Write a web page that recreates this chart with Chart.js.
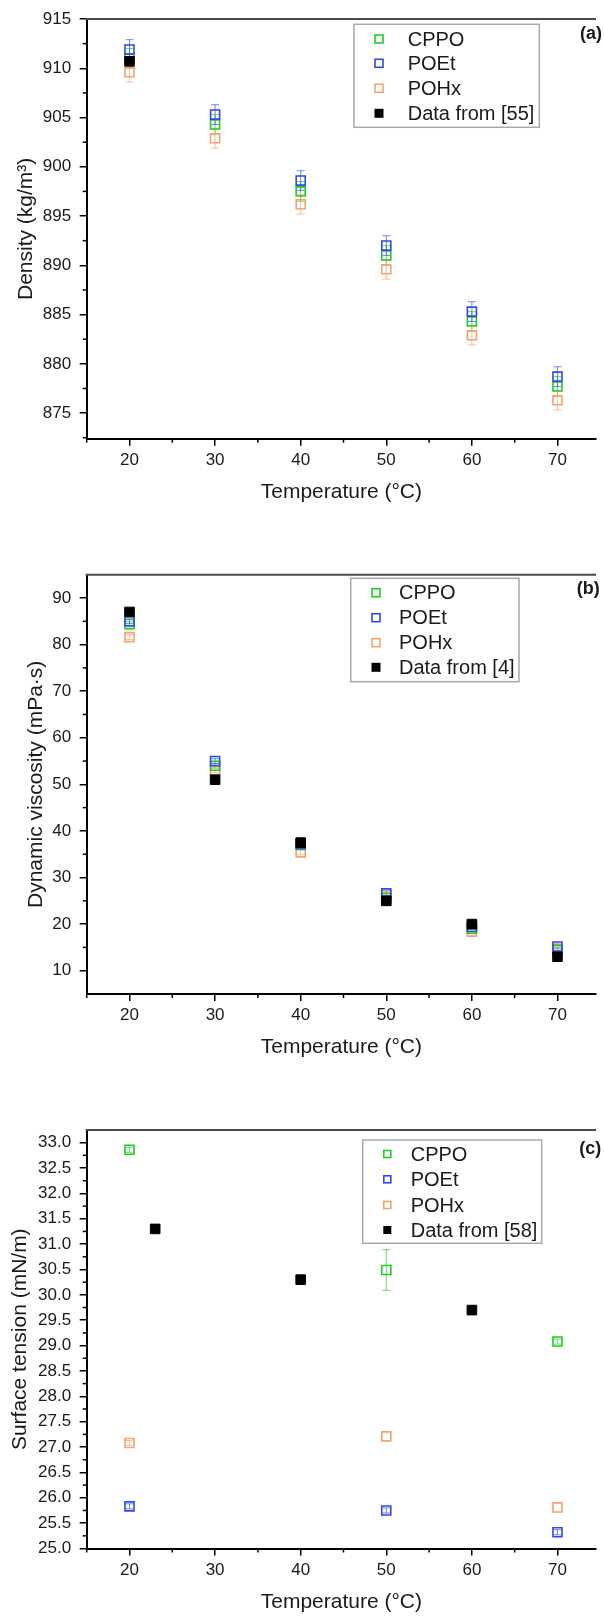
<!DOCTYPE html>
<html>
<head>
<meta charset="utf-8">
<script src="https://cdn.jsdelivr.net/npm/chart.js@4.4.1/dist/chart.umd.min.js"></script>
<style>
  html, body { margin: 0; padding: 0; background: #fff; overflow: hidden; }
  canvas { position: absolute; left: 0; }
</style>
</head>
<body>
<canvas id="chartDensity" width="604" height="540" style="top:0"></canvas>
<canvas id="chartViscosity" width="604" height="540" style="top:540px"></canvas>
<canvas id="chartTension" width="604" height="537" style="top:1080px"></canvas>
<script>
const temperatures = [20, 30, 40, 50, 60, 70];
const tempTicks = [20, 30, 40, 50, 60, 70];
const tempMinorTicks = [15, 25, 35, 45, 55, 65];

// (a) density (kg/m3)
const densityCPPO = [911.0, 904.3, 897.5, 891.0, 884.3, 877.7];
const densityPOEt = [911.9, 905.3, 898.6, 892.0, 885.3, 878.7];
const densityPOHx = [909.6, 902.9, 896.2, 889.6, 882.9, 876.3];
const densityErr = [1, 1, 1, 1, 1, 1];
const densityRefT = [20];
const densityRef = [910.7];
const densityTicks = [875, 880, 885, 890, 895, 900, 905, 910, 915];
const densityMinorTicks = [872.5, 877.5, 882.5, 887.5, 892.5, 897.5, 902.5, 907.5, 912.5];

// (b) dynamic viscosity (mPa·s)
const viscCPPO = [84.4, 54.0, 37.0, 25.6, 19.0, 14.5];
const viscPOEt = [85.0, 55.0, 37.2, 26.6, 19.4, 15.2];
const viscPOHx = [81.6, 53.0, 35.4, 26.3, 18.4, 14.7];
const viscErr = [0.5, 0.5, 0.5, 0.5, 0.5, 0.5];
const viscRefT = [20, 30, 40, 50, 60, 70];
const viscRef = [87.0, 51.0, 37.5, 25.0, 20.0, 13.0];
const viscTicks = [10, 20, 30, 40, 50, 60, 70, 80, 90];
const viscMinorTicks = [15, 25, 35, 45, 55, 65, 75, 85];

// (c) surface tension (mN/m)
const tensionT = [20, 50, 70];
const tensionCPPO = [32.86, 30.49, 29.08];
const tensionCPPOErr = [0.05, 0.4, 0.05];
const tensionPOEt = [25.83, 25.75, 25.32];
const tensionPOEtErr = [0.05, 0.05, 0.05];
const tensionPOHx = [27.08, 27.21, 25.81];
const tensionPOHxErr = [0.05, 0, 0];
const tensionRefT = [23, 40, 60];
const tensionRef = [31.3, 30.3, 29.7];
const tensionTicks = [25.0, 25.5, 26.0, 26.5, 27.0, 27.5, 28.0, 28.5, 29.0, 29.5, 30.0, 30.5, 31.0, 31.5, 32.0, 32.5, 33.0];
const tensionMinorTicks = [25.25, 25.75, 26.25, 26.75, 27.25, 27.75, 28.25, 28.75, 29.25, 29.75, 30.25, 30.75, 31.25, 31.75, 32.25, 32.75];

const GREEN = '#22cc22';
const BLUE = '#3347ee';
const ORANGE = '#f5a26e';

Chart.defaults.font.family = '"Liberation Sans", Arial, sans-serif';
Chart.defaults.color = '#1a1a1a';

function pts(xs, ys) {
  return xs.map((v, i) => ({ x: v, y: ys[i] }));
}

function hollow(label, color, xs, ys, errs, order) {
  return {
    label: label,
    data: pts(xs, ys),
    errors: errs,
    errorColor: color + 'aa',
    pointStyle: 'rect',
    pointRadius: 6.4,
    pointBorderWidth: 1.6,
    pointBorderColor: color,
    pointBackgroundColor: 'rgba(255,255,255,0)',
    borderColor: color,
    showLine: false,
    order: order
  };
}

function solid(label, xs, ys) {
  return {
    label: label,
    data: pts(xs, ys),
    filled: true,
    pointStyle: 'rect',
    pointRadius: 6.8,
    pointBorderWidth: 1,
    pointBorderColor: '#000',
    pointBackgroundColor: '#000',
    borderColor: '#000',
    showLine: false,
    order: 0
  };
}

const decor = {
  id: 'decor',
  beforeDatasetsDraw(chart) {
    const { ctx, scales: { x, y } } = chart;
    ctx.save();
    ctx.lineWidth = 1;
    chart.data.datasets.forEach(ds => {
      if (!ds.errors) return;
      ctx.strokeStyle = ds.errorColor;
      ds.data.forEach((p, j) => {
        const e = ds.errors[j];
        if (!e) return;
        const px = x.getPixelForValue(p.x);
        const t = y.getPixelForValue(p.y + e);
        const b = y.getPixelForValue(p.y - e);
        ctx.beginPath();
        ctx.moveTo(px, t); ctx.lineTo(px, b);
        ctx.moveTo(px - 4, t); ctx.lineTo(px + 4, t);
        ctx.moveTo(px - 4, b); ctx.lineTo(px + 4, b);
        ctx.stroke();
      });
    });
    ctx.restore();
  },
  afterDraw(chart, args, opts) {
    const { ctx, chartArea: area, scales: { x, y } } = chart;
    ctx.save();
    // top frame
    ctx.strokeStyle = '#4a4a4a';
    ctx.lineWidth = 2;
    ctx.beginPath();
    ctx.moveTo(area.left - 1, area.top);
    ctx.lineTo(area.right, area.top);
    ctx.stroke();
    // minor ticks
    ctx.strokeStyle = '#000';
    ctx.lineWidth = 1.5;
    opts.xMinor.forEach(v => {
      const px = x.getPixelForValue(v);
      ctx.beginPath(); ctx.moveTo(px, area.bottom); ctx.lineTo(px, area.bottom + 4); ctx.stroke();
    });
    opts.yMinor.forEach(v => {
      const py = y.getPixelForValue(v);
      ctx.beginPath(); ctx.moveTo(area.left, py); ctx.lineTo(area.left - 4, py); ctx.stroke();
    });
    // legend
    const lg = opts.legend;
    ctx.fillStyle = '#fff';
    ctx.fillRect(lg.box[0], lg.box[1], lg.box[2] - lg.box[0], lg.box[3] - lg.box[1]);
    ctx.strokeStyle = '#a8a8a8';
    ctx.lineWidth = 1.5;
    ctx.strokeRect(lg.box[0], lg.box[1], lg.box[2] - lg.box[0], lg.box[3] - lg.box[1]);
    ctx.font = '20px "Liberation Sans", Arial, sans-serif';
    ctx.textBaseline = 'middle';
    ctx.textAlign = 'left';
    const s = lg.marker;
    chart.data.datasets.forEach((ds, i) => {
      const ry = lg.rows[i];
      if (ds.filled) {
        ctx.fillStyle = '#000';
        ctx.fillRect(lg.markerX - s / 2 - 0.5, ry - s / 2 - 0.5, s + 1, s + 1);
      } else {
        ctx.strokeStyle = ds.borderColor;
        ctx.lineWidth = 1.6;
        ctx.strokeRect(lg.markerX - s / 2, ry - s / 2, s, s);
      }
      ctx.fillStyle = '#1a1a1a';
      ctx.fillText(ds.label, lg.textX, ry + 1);
    });
    // panel letter
    ctx.font = 'bold 18px "Liberation Sans", Arial, sans-serif';
    ctx.fillStyle = '#1a1a1a';
    ctx.fillText(opts.letter, opts.letterPos[0], opts.letterPos[1]);
    ctx.restore();
  }
};

function makePanel(id, cfg) {
  const yWidth = 86.7 - cfg.padLeft;
  new Chart(document.getElementById(id), {
    type: 'scatter',
    data: { datasets: cfg.datasets },
    plugins: [decor],
    options: {
      responsive: false,
      animation: false,
      events: [],
      layout: { padding: { left: cfg.padLeft, right: 0, top: cfg.padTop, bottom: cfg.padBottom } },
      plugins: {
        legend: { display: false },
        tooltip: { enabled: false },
        decor: {
          xMinor: tempMinorTicks,
          yMinor: cfg.yMinor,
          legend: cfg.legend,
          letter: cfg.letter,
          letterPos: cfg.letterPos
        }
      },
      scales: {
        x: {
          type: 'linear',
          min: 15,
          max: 74.5,
          afterBuildTicks: s => { s.ticks = tempTicks.map(v => ({ value: v })); },
          afterFit: s => { s.height = 66; },
          border: { display: true, color: '#000', width: 2 },
          grid: { drawOnChartArea: false, drawTicks: true, tickLength: 7, tickColor: '#000', lineWidth: 1.5 },
          ticks: { padding: 4.5, font: { size: 17 }, maxRotation: 0, autoSkip: false },
          title: { display: true, text: 'Temperature (°C)', font: { size: 21 }, padding: 0 }
        },
        y: {
          type: 'linear',
          min: cfg.yMin,
          max: cfg.yMax,
          afterBuildTicks: s => { s.ticks = cfg.yTicks.map(v => ({ value: v })); },
          afterFit: s => { s.width = yWidth; },
          border: { display: true, color: '#000', width: 2 },
          grid: { drawOnChartArea: false, drawTicks: true, tickLength: 7, tickColor: '#000', lineWidth: 1.5 },
          ticks: { padding: 8.5, font: { size: 17 }, autoSkip: false, callback: cfg.yFormat },
          title: { display: true, text: cfg.yTitle, font: { size: 21 }, padding: 0 }
        }
      }
    }
  });
}

makePanel('chartDensity', {
  datasets: [
    hollow('CPPO', GREEN, temperatures, densityCPPO, densityErr, 2),
    hollow('POEt', BLUE, temperatures, densityPOEt, densityErr, 1),
    hollow('POHx', ORANGE, temperatures, densityPOHx, densityErr, 3),
    solid('Data from [55]', densityRefT, densityRef)
  ],
  yMin: 872.4, yMax: 915,
  yTicks: densityTicks, yMinor: densityMinorTicks,
  yFormat: v => String(v),
  yTitle: 'Density (kg/m³)',
  padLeft: 13.4, padTop: 19, padBottom: 35.3,
  legend: { box: [354, 24.3, 539.3, 127.3], markerX: 379, textX: 407.7, rows: [39, 63.3, 88.3, 113.3], marker: 8 },
  letter: '(a)', letterPos: [580, 34.5]
});

makePanel('chartViscosity', {
  datasets: [
    hollow('CPPO', GREEN, temperatures, viscCPPO, viscErr, 2),
    hollow('POEt', BLUE, temperatures, viscPOEt, viscErr, 1),
    hollow('POHx', ORANGE, temperatures, viscPOHx, viscErr, 3),
    solid('Data from [4]', viscRefT, viscRef)
  ],
  yMin: 5, yMax: 95,
  yTicks: viscTicks, yMinor: viscMinorTicks,
  yFormat: v => String(v),
  yTitle: 'Dynamic viscosity (mPa·s)',
  padLeft: 23.4, padTop: 34.7, padBottom: 20,
  legend: { box: [350.7, 38.3, 519, 141.7], markerX: 376, textX: 399, rows: [52.7, 77.7, 102.7, 127.3], marker: 8 },
  letter: '(b)', letterPos: [576.7, 49.5]
});

makePanel('chartTension', {
  datasets: [
    hollow('CPPO', GREEN, tensionT, tensionCPPO, tensionCPPOErr, 2),
    hollow('POEt', BLUE, tensionT, tensionPOEt, tensionPOEtErr, 1),
    hollow('POHx', ORANGE, tensionT, tensionPOHx, tensionPOHxErr, 3),
    solid('Data from [58]', tensionRefT, tensionRef)
  ],
  yMin: 25, yMax: 33.25,
  yTicks: tensionTicks, yMinor: tensionMinorTicks,
  yFormat: v => v.toFixed(1),
  yTitle: 'Surface tension (mN/m)',
  padLeft: 7.9, padTop: 50, padBottom: 2.5,
  legend: { box: [362.7, 60, 541.7, 163.3], markerX: 387.3, textX: 410.7, rows: [74, 99.3, 125, 150], marker: 7 },
  letter: '(c)', letterPos: [579.3, 69.5]
});
</script>
</body>
</html>
